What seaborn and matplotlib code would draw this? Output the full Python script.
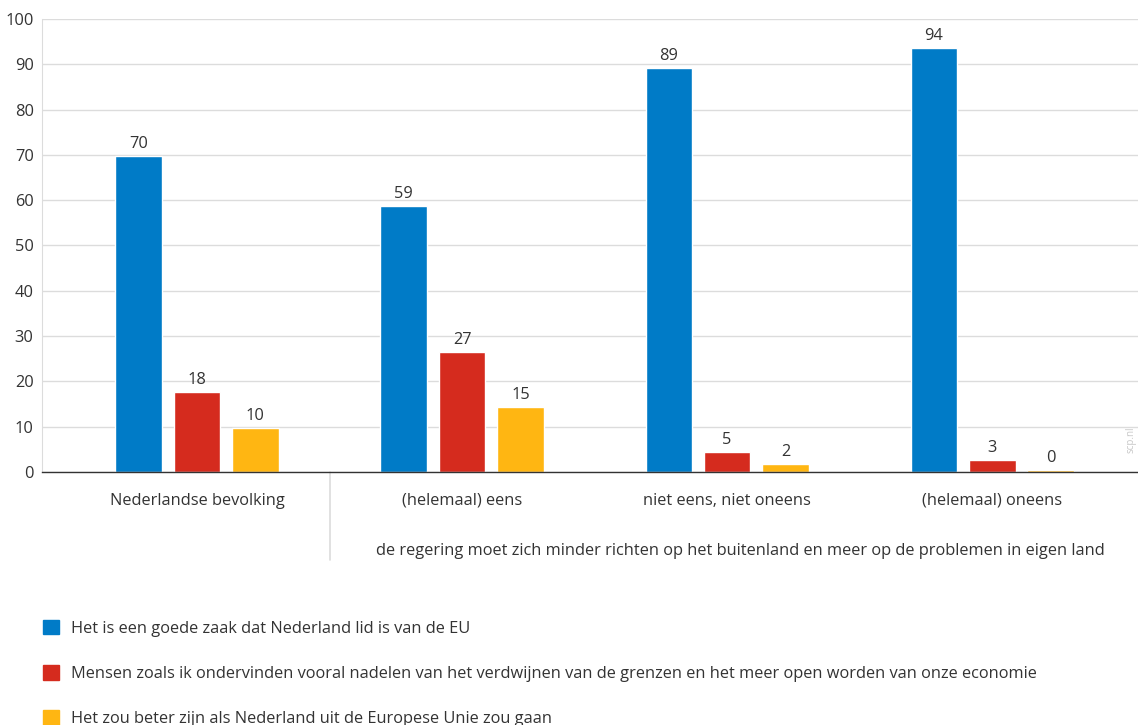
import pandas as pd
import matplotlib.pyplot as plt
from matplotlib.transforms import blended_transform_factory
import seaborn as sns

# --- data ---
groups = ["Nederlandse bevolking", "(helemaal) eens", "niet eens, niet oneens", "(helemaal) oneens"]
series = [
    "Het is een goede zaak dat Nederland lid is van de EU",
    "Mensen zoals ik ondervinden vooral nadelen van het verdwijnen van de grenzen en het meer open worden van onze economie",
    "Het zou beter zijn als Nederland uit de Europese Unie zou gaan",
]
eu_goed = [69.8, 58.7, 89.2, 93.6]
nadelen = [17.7, 26.5, 4.4, 2.6]
eruit = [9.7, 14.3, 1.8, 0.4]
eu_goed_lbl = ["70", "59", "89", "94"]
nadelen_lbl = ["18", "27", "5", "3"]
eruit_lbl = ["10", "15", "2", "0"]
subtitle = "de regering moet zich minder richten op het buitenland en meer op de problemen in eigen land"
colors = ["#007bc7", "#d52b1e", "#ffb612"]

df = pd.DataFrame({
    "groep": groups * 3,
    "reeks": [series[0]] * 4 + [series[1]] * 4 + [series[2]] * 4,
    "waarde": eu_goed + nadelen + eruit,
})
labels = [eu_goed_lbl, nadelen_lbl, eruit_lbl]

sns.set_style("white")
plt.rcParams["font.family"] = ["Open Sans", "DejaVu Sans"]
txt = "#333333"
fs = 11.8

fig = plt.figure(figsize=(11.38, 7.25), dpi=100)
ax = fig.add_axes([42 / 1138, 1 - 472 / 725, 1096 / 1138, 453 / 725])

sns.barplot(data=df, x="groep", y="waarde", hue="reeks", palette=colors,
            width=0.66, gap=0.2, ax=ax, legend=False, saturation=1)

for cont, lbl in zip(ax.containers, labels):
    ax.bar_label(cont, labels=lbl, padding=3, fontsize=fs, color=txt)

ax.set_ylim(0, 100)
ax.set_xlim(-0.585, 3.55)
ax.set_yticks(range(0, 101, 10))
ax.yaxis.grid(True, color="#dcdcdc", linewidth=1)
ax.set_axisbelow(True)
ax.set_xlabel("")
ax.set_ylabel("")
for s in ["top", "right"]:
    ax.spines[s].set_visible(False)
ax.spines["left"].set_color("#dcdcdc")
ax.spines["bottom"].set_color("#333333")
ax.spines["bottom"].set_linewidth(1.0)
ax.tick_params(axis="y", length=0, labelsize=fs, colors=txt, pad=6)
ax.tick_params(axis="x", length=0, labelsize=fs, colors=txt, pad=15)

# separator and group caption under the axis
trans = blended_transform_factory(ax.transData, ax.transAxes)
ax.plot([0.5, 0.5], [0, -0.195], color="#dcdcdc", linewidth=1.2,
        transform=trans, clip_on=False)
ax.text(2.05, -0.175, subtitle, transform=trans, ha="center", va="center",
        fontsize=fs, color=txt)

# watermark at right edge
fig.text(1131 / 1138, 1 - 440 / 725, "scp.nl", rotation=90, fontsize=7,
         color="#c8c8c8", ha="center", va="center")

handles = [plt.Rectangle((0, 0), 1, 1, color=c) for c in colors]
fig.legend(handles, series, loc="upper left", bbox_to_anchor=(28 / 1138, 1 - 605 / 725),
           frameon=False, fontsize=fs, labelcolor=txt, handlelength=1.0,
           handleheight=1.0, labelspacing=1.72, handletextpad=0.75)

fig.savefig("out.png", dpi=100)
